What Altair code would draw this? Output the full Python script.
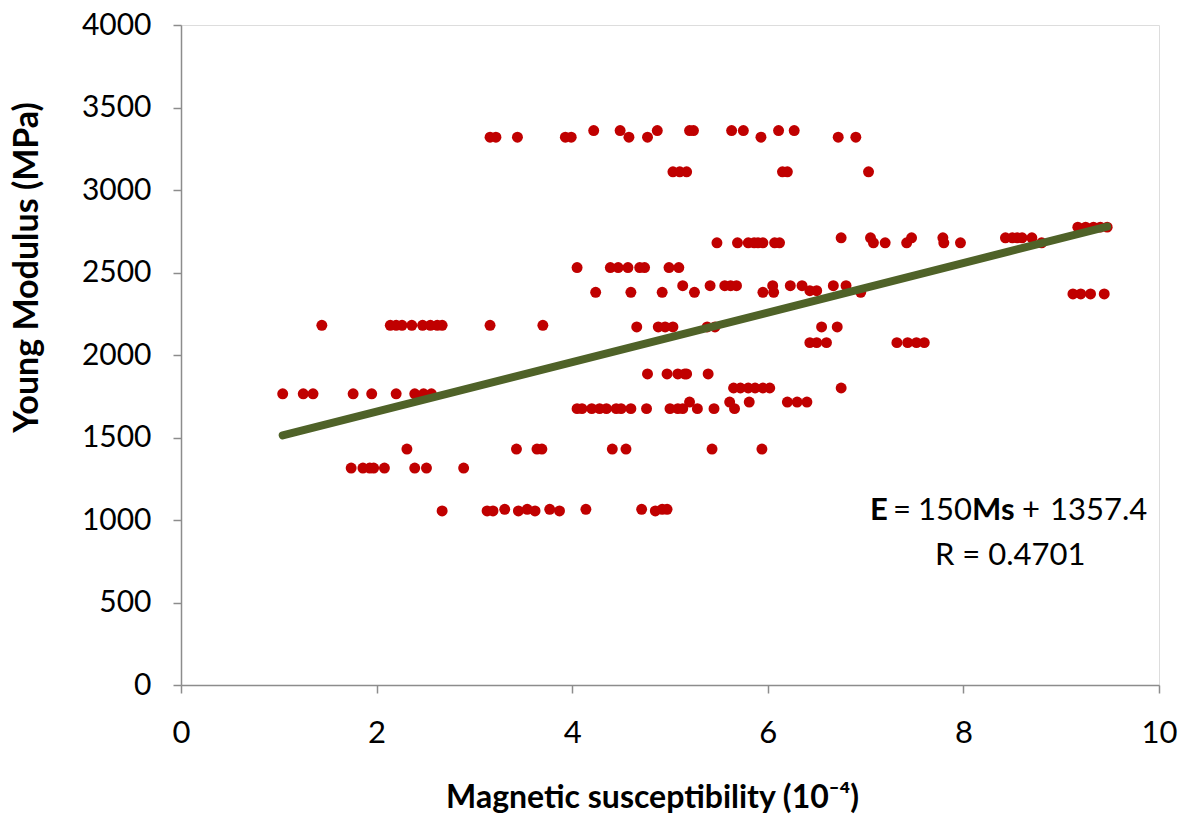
import altair as alt
import pandas as pd

# Magnetic susceptibility (1e-4) and Young modulus (MPa), read row by row
ms = [
    3.16, 3.22, 3.44, 3.93, 3.99, 4.22, 4.49, 4.58, 4.77, 4.87, 5.20, 5.24, 5.63, 5.75, 5.93, 6.11, 6.27, 6.72, 6.90,
    5.03, 5.10, 5.17, 6.15, 6.20, 7.03,
    9.17, 9.25, 9.33, 9.40, 9.47,
    6.75, 7.05, 7.47, 7.79, 8.43, 8.50, 8.55, 8.60, 8.70,
    5.48, 5.69, 5.80, 5.86, 5.90, 5.95, 6.07, 6.12, 7.08, 7.20, 7.42, 7.80, 7.97, 8.80,
    4.05, 4.39, 4.47, 4.57, 4.69, 4.74, 4.99, 5.09,
    4.24, 4.60, 4.92, 5.13, 5.25, 5.41, 5.56, 5.62, 5.68, 5.95, 6.05, 6.06, 6.23, 6.35, 6.43, 6.50, 6.67, 6.80, 6.95,
    9.12, 9.20, 9.30, 9.44,
    1.44, 2.14, 2.20, 2.26, 2.36, 2.47, 2.55, 2.62, 2.67, 3.16, 3.70, 4.66, 4.88, 4.95, 5.03, 5.38, 5.46, 6.55, 6.71,
    6.43, 6.50, 6.60, 7.32, 7.43, 7.52, 7.60,
    4.77, 4.97, 5.08, 5.15, 5.17, 5.39,
    5.65, 5.72, 5.80, 5.87, 5.95, 6.02, 6.75,
    1.04, 1.25, 1.35, 1.76, 1.95, 2.20, 2.39, 2.48, 2.56,
    5.20, 5.61, 5.81, 6.20, 6.30, 6.40,
    4.05, 4.10, 4.20, 4.28, 4.35, 4.45, 4.50, 4.60, 4.76, 5.00, 5.08, 5.13, 5.28, 5.45, 5.66,
    2.31, 3.43, 3.64, 3.69, 4.41, 4.55, 5.43, 5.94,
    1.74, 1.86, 1.93, 1.97, 2.08, 2.39, 2.51, 2.89,
    2.67, 3.13, 3.19, 3.31, 3.45, 3.54, 3.62, 3.77, 3.87, 4.14, 4.71, 4.85, 4.92, 4.97,
]
young = [
    3320, 3320, 3320, 3320, 3320, 3360, 3360, 3320, 3320, 3360, 3360, 3360, 3360, 3360, 3320, 3360, 3360, 3320, 3320,
    3110, 3110, 3110, 3110, 3110, 3110,
    2775, 2775, 2775, 2775, 2775,
    2710, 2710, 2710, 2710, 2710, 2710, 2710, 2710, 2710,
    2680, 2680, 2680, 2680, 2680, 2680, 2680, 2680, 2680, 2680, 2680, 2680, 2680, 2680,
    2530, 2530, 2530, 2530, 2530, 2530, 2530, 2530,
    2380, 2380, 2380, 2420, 2380, 2420, 2420, 2420, 2420, 2380, 2420, 2380, 2420, 2420, 2390, 2390, 2420, 2420, 2380,
    2370, 2370, 2370, 2370,
    2180, 2180, 2180, 2180, 2180, 2180, 2180, 2180, 2180, 2180, 2180, 2170, 2170, 2170, 2170, 2170, 2170, 2170, 2170,
    2075, 2075, 2075, 2075, 2075, 2075, 2075,
    1885, 1885, 1885, 1885, 1885, 1885,
    1800, 1800, 1800, 1800, 1800, 1800, 1800,
    1765, 1765, 1765, 1765, 1765, 1765, 1765, 1765, 1765,
    1715, 1715, 1715, 1715, 1715, 1715,
    1675, 1675, 1675, 1675, 1675, 1675, 1675, 1675, 1675, 1675, 1675, 1675, 1675, 1675, 1675,
    1430, 1430, 1430, 1430, 1430, 1430, 1430, 1430,
    1315, 1315, 1315, 1315, 1315, 1315, 1315, 1315,
    1055, 1055, 1055, 1065, 1055, 1065, 1055, 1065, 1055, 1065, 1065, 1055, 1065, 1065,
]

# Linear fit E = 150 Ms + 1357.4, endpoints as drawn
fit_ms = [1.04, 9.47]
fit_e = [1513, 2778]

pts = pd.DataFrame({"ms": ms, "E": young})
fit = pd.DataFrame({"ms": fit_ms, "E": fit_e})

W, H = 978, 660
FONT = "Lato"
x_scale = alt.Scale(domain=[0, 10], nice=False, zero=False)
y_scale = alt.Scale(domain=[0, 4000], nice=False)

x_axis = alt.Axis(
    values=[0, 2, 4, 6, 8, 10], format="d", grid=False, labelFlush=False,
    title="Magnetic susceptibility (10⁻⁴)",
    titleFont=FONT, titleFontWeight="bold", titleFontSize=32,
    titleColor="#000000", titleX=471, titleY=112, titleBaseline="middle", titleAlign="center",
    labelFont=FONT, labelFontSize=31, labelColor="#000000", labelPadding=25,
    tickSize=8, tickColor="#8C8C8C", domainColor="#8C8C8C", domainWidth=1.5, tickWidth=1.5,
)
y_axis = alt.Axis(
    values=list(range(0, 4001, 500)), format="d", grid=False, labelFlush=False,
    title="Young Modulus (MPa)",
    titleFont=FONT, titleFontWeight="bold", titleFontSize=34,
    titleColor="#000000", titleX=-154, titleY=242, titleAngle=-90,
    titleBaseline="middle", titleAlign="center",
    labelFont=FONT, labelFontSize=30, labelColor="#000000", labelPadding=22,
    tickSize=8, tickColor="#8C8C8C", domainColor="#8C8C8C", domainWidth=1.5, tickWidth=1.5,
)

points = alt.Chart(pts).mark_circle(size=120, color="#C00000", opacity=1).encode(
    x=alt.X("ms:Q", scale=x_scale, axis=x_axis),
    y=alt.Y("E:Q", scale=y_scale, axis=y_axis),
)

line = alt.Chart(fit).mark_line(color="#4F6228", strokeWidth=8, strokeCap="round").encode(
    x=alt.X("ms:Q", scale=x_scale),
    y=alt.Y("E:Q", scale=y_scale),
)

def seg(text, px, py, bold=False):
    return alt.Chart(pd.DataFrame({"t": [text]})).mark_text(
        font=FONT, fontSize=31, fontWeight="bold" if bold else "normal",
        color="#000000", align="left", baseline="alphabetic",
    ).encode(text="t:N", x=alt.value(px - 181), y=alt.value(py - 25))

ann = [
    seg("E", 870, 520, True),
    seg("=", 893, 520),
    seg("150", 918, 520),
    seg("Ms", 972, 520, True),
    seg("+", 1022, 520),
    seg("1357.4", 1050, 520),
    seg("R = 0.4701", 935, 565),
]

chart = alt.layer(points, line, *ann).properties(
    width=W, height=H,
    autosize=alt.AutoSizeParams(type="none"),
    padding={"left": 181, "top": 25, "right": 26, "bottom": 129},
).configure_view(stroke=None).configure(background="white")

chart.save("out.html", embed_options={"renderer": "svg", "actions": False})
